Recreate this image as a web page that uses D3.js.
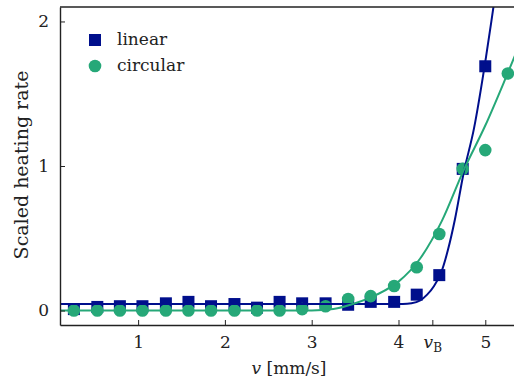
<!DOCTYPE html>
<html>
<head>
<meta charset="utf-8">
<script src="https://cdn.jsdelivr.net/npm/d3@7"></script>
<style>
  body { margin: 0; background: #fff; }
  svg { display: block; font-family: 'DejaVu Serif', serif; }
</style>
</head>
<body>
<div class="canvas"></div>
<script>
// measured speeds (mm/s)
const speeds = [0.26, 0.53, 0.79, 1.05, 1.32, 1.58, 1.84, 2.11, 2.37, 2.63,
  2.89, 3.16, 3.42, 3.68, 3.95, 4.21, 4.47, 4.74, 5.00, 5.26]
const linearRate = [0.01, 0.025, 0.03, 0.03, 0.05, 0.06, 0.03, 0.045, 0.02, 0.06,
  0.05, 0.05, 0.04, 0.06, 0.06, 0.11, 0.245, 0.98, 1.69, null]
const circularRate = [0.0, 0.0, 0.0, 0.0, 0.0, 0.0, 0.0, 0.0, 0.0, 0.0,
  0.01, 0.03, 0.08, 0.10, 0.17, 0.30, 0.53, 0.98, 1.11, 1.64]

// fit curves
const linFitV = [0.1, 4.05, 4.15, 4.25, 4.33, 4.41, 4.49, 4.57, 4.65, 4.75, 4.87, 5.01, 5.07, 5.13]
const linFitY = [0.045, 0.045, 0.05, 0.07, 0.11, 0.17, 0.26, 0.42, 0.63, 0.95, 1.26, 1.76, 2.0, 2.25]
const circFitV = [0.1, 3.0, 3.25, 3.5, 3.75, 4.0, 4.25, 4.5, 4.75, 5.0, 5.25, 5.45]
const circFitY = [0.0, 0.0, 0.01, 0.05, 0.11, 0.2, 0.36, 0.62, 0.97, 1.28, 1.63, 1.92]

const xTicks = [1, 2, 3, 4, 5]
const yTicks = [0, 1, 2]
const vB = 4.39

const series = ['linear', 'circular']
const colors = { linear: '#000f8c', circular: '#26a878' }

const dims = { width: 514, height: 382 }
const margin = { left: 60, top: 7, bottom: 325, right: 520 }

const svg = d3.select('.canvas')
  .append('svg')
  .attr('width', dims.width)
  .attr('height', dims.height)

const x = d3.scaleLinear().domain([0.1, 5.4]).range([margin.left, margin.right])
const y = d3.scaleLinear().domain([-0.1, 2.1]).range([margin.bottom, margin.top])

svg.append('clipPath').attr('id', 'clip')
  .append('rect')
  .attr('x', margin.left).attr('y', margin.top)
  .attr('width', margin.right - margin.left)
  .attr('height', margin.bottom - margin.top)

const plot = svg.append('g').attr('clip-path', 'url(#clip)')

// markers
const linPts = speeds.map((v, i) => ({ v, r: linearRate[i] })).filter(d => d.r !== null)
const circPts = speeds.map((v, i) => ({ v, r: circularRate[i] }))

plot.selectAll('rect.lin')
  .data(linPts)
  .enter().append('rect')
  .attr('class', 'lin')
  .attr('x', d => x(d.v) - 6)
  .attr('y', d => y(d.r) - 6)
  .attr('width', 12)
  .attr('height', 12)
  .attr('fill', colors.linear)

plot.selectAll('circle.circ')
  .data(circPts)
  .enter().append('circle')
  .attr('class', 'circ')
  .attr('cx', d => x(d.v))
  .attr('cy', d => y(d.r))
  .attr('r', 6.3)
  .attr('fill', colors.circular)

// fit lines
const line = d3.line()
  .x(d => x(d[0]))
  .y(d => y(d[1]))
  .curve(d3.curveMonotoneX)

plot.append('path')
  .datum(linFitV.map((v, i) => [v, linFitY[i]]))
  .attr('d', line)
  .attr('fill', 'none')
  .attr('stroke', colors.linear)
  .attr('stroke-width', 2)

plot.append('path')
  .datum(circFitV.map((v, i) => [v, circFitY[i]]))
  .attr('d', line)
  .attr('fill', 'none')
  .attr('stroke', colors.circular)
  .attr('stroke-width', 2)

// axes (ticks point inward)
const xAxis = svg.append('g')
  .attr('transform', `translate(0, ${margin.bottom})`)
  .call(d3.axisBottom(x).tickValues(xTicks.concat([vB])).tickSizeInner(-5).tickSizeOuter(0).tickPadding(11).tickFormat(d3.format('d')))

xAxis.selectAll('.tick')
  .filter(d => d === vB)
  .select('text')
  .text(null)
  .call(t => {
    t.append('tspan').attr('font-style', 'italic').text('v')
    t.append('tspan').attr('font-size', 12).attr('dy', 4).text('B')
  })

const yAxis = svg.append('g')
  .attr('transform', `translate(${margin.left}, 0)`)
  .call(d3.axisLeft(y).tickValues(yTicks).tickSizeInner(-5).tickSizeOuter(0).tickPadding(11).tickFormat(d3.format('d')))

svg.selectAll('.tick text')
  .attr('font-family', 'DejaVu Serif, serif')
  .attr('font-size', 17)
  .attr('fill', '#222')
svg.selectAll('.tick line').attr('stroke', '#222').attr('stroke-width', 1)
svg.selectAll('.domain').attr('stroke', '#222').attr('stroke-width', 1.4)

// top spine
svg.append('line')
  .attr('x1', margin.left).attr('x2', margin.right)
  .attr('y1', margin.top).attr('y2', margin.top)
  .attr('stroke', '#222').attr('stroke-width', 1.4)

// axis labels
const xLabel = svg.append('text')
  .attr('x', 289).attr('y', 374)
  .attr('text-anchor', 'middle')
  .attr('font-size', 17)
  .attr('fill', '#222')
xLabel.append('tspan').attr('font-style', 'italic').text('v')
xLabel.append('tspan').text(' [mm/s]')

svg.append('text')
  .attr('transform', 'translate(28, 165) rotate(-90)')
  .attr('text-anchor', 'middle')
  .attr('font-size', 19)
  .attr('fill', '#222')
  .text('Scaled heating rate')

// legend
const legend = svg.append('g')
series.forEach((s, i) => {
  const cy = 40 + i * 26
  if (s === 'linear') {
    legend.append('rect').attr('x', 89).attr('y', cy - 6).attr('width', 12).attr('height', 12).attr('fill', colors[s])
  } else {
    legend.append('circle').attr('cx', 95).attr('cy', cy).attr('r', 6.3).attr('fill', colors[s])
  }
  legend.append('text')
    .attr('x', 117).attr('y', cy + 5)
    .attr('font-size', 17)
    .attr('fill', '#222')
    .text(s)
})
</script>
</body>
</html>
